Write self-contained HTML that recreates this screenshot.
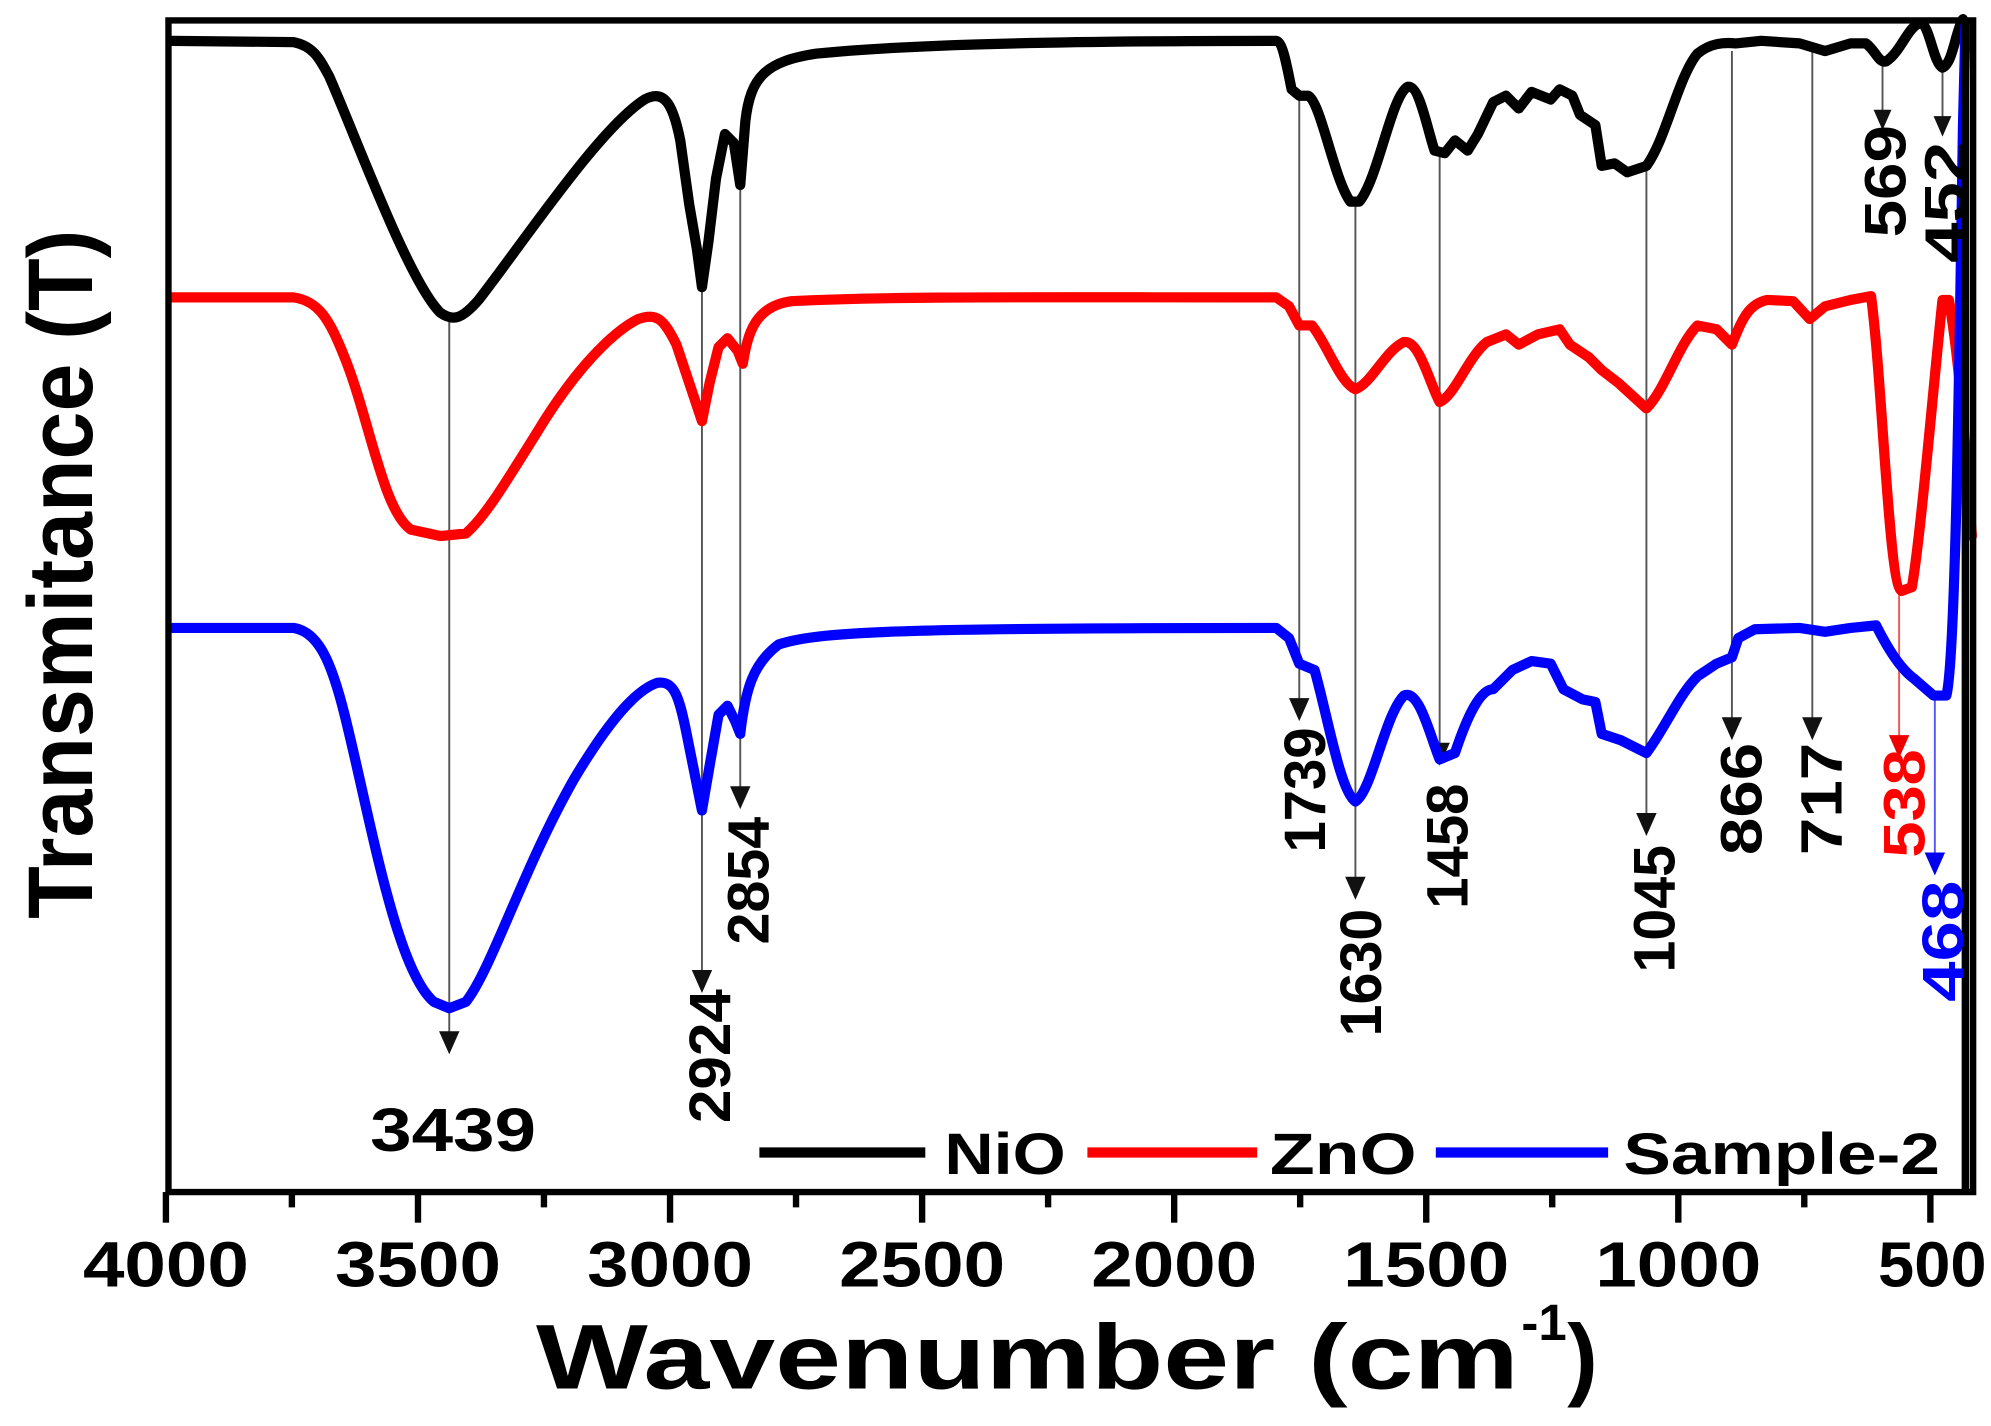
<!DOCTYPE html>
<html><head><meta charset="utf-8"><style>
html,body{margin:0;padding:0;background:#fff;}
svg{display:block;}
text{font-family:"Liberation Sans",Arial,sans-serif;font-weight:bold;}
</style></head><body>
<svg width="1991" height="1426" viewBox="0 0 1560 1117.3" preserveAspectRatio="none" xmlns="http://www.w3.org/2000/svg">
<rect x="0" y="0" width="1560" height="1117.3" fill="#fff"/>
<!-- guide lines -->
<g stroke="#555" stroke-width="1.5" fill="none">
<line x1="352" y1="248" x2="352" y2="812"/>
<line x1="550" y1="225" x2="550" y2="765"/>
<line x1="580" y1="145" x2="580" y2="622"/>
<line x1="1018" y1="75" x2="1018" y2="552"/>
<line x1="1062" y1="160" x2="1062" y2="692"/>
<line x1="1128" y1="120" x2="1128" y2="587"/>
<line x1="1290" y1="130" x2="1290" y2="642"/>
<line x1="1357" y1="40" x2="1357" y2="567"/>
<line x1="1420" y1="40" x2="1420" y2="567"/>
<line x1="1475" y1="50" x2="1475" y2="92"/>
<line x1="1522" y1="55" x2="1522" y2="97"/>
</g>
<g fill="#111">
<path d="M344,808 L360,808 L352,826 Z"/>
<path d="M542,760 L558,760 L550,778 Z"/>
<path d="M572,616 L588,616 L580,634 Z"/>
<path d="M1010,547 L1026,547 L1018,565 Z"/>
<path d="M1054,687 L1070,687 L1062,705 Z"/>
<path d="M1120,582 L1136,582 L1128,600 Z"/>
<path d="M1282,637 L1298,637 L1290,655 Z"/>
<path d="M1349,562 L1365,562 L1357,580 Z"/>
<path d="M1412,562 L1428,562 L1420,580 Z"/>
<path d="M1468,86 L1482,86 L1475,102 Z"/>
<path d="M1515,91 L1529,91 L1522,107 Z"/>
</g>
<line x1="1488" y1="465" x2="1488" y2="580" stroke="#e55" stroke-width="1.5"/>
<path d="M1480,576 L1496,576 L1488,594 Z" fill="#e00"/>
<line x1="1516" y1="545" x2="1516" y2="672" stroke="#55f" stroke-width="1.5"/>
<path d="M1508,668 L1524,668 L1516,686 Z" fill="#00e"/>

<!-- curves -->
<g fill="none" stroke-width="8" stroke-linejoin="round" stroke-linecap="round">
<path stroke="#000" d="M135,32 L230,33 C245,36 250,45 258,60 C280,110 320,220 345,245 C355,252 362,250 375,235 C410,190 470,100 505,78 C520,70 527,80 533,110 L540,160 L546,195 L550,225 L555,190 L561,140 L568,105 L575,112 L580,145 L584,95 C588,60 600,48 640,42 C700,36 800,32 1000,32 C1005,33 1008,50 1012,70 L1018,75 L1025,75 C1035,80 1045,140 1058,158 L1065,158 C1080,140 1090,75 1103,68 C1112,66 1118,100 1124,118 L1132,120 L1140,110 L1150,118 L1158,105 L1170,80 L1180,75 L1190,85 L1200,72 L1215,78 L1222,70 L1232,75 L1238,90 L1250,98 L1255,130 L1265,128 L1275,135 L1290,130 C1305,110 1315,60 1330,42 C1340,34 1350,33 1360,34 L1380,32 L1410,34 L1430,40 L1450,34 L1462,34 C1470,40 1472,50 1478,48 C1490,40 1495,20 1505,18 C1512,20 1515,50 1522,53 C1530,50 1532,25 1538,15"/>
<path stroke="#f00" d="M135,233 L230,233 C250,236 258,250 270,280 C290,330 300,400 322,415 L345,420 L365,418 C380,405 395,380 420,340 C450,290 480,260 500,250 C515,245 520,250 530,270 L540,300 L550,330 L556,300 L563,272 L570,265 L578,275 L582,285 C586,260 592,240 620,236 C700,232 800,233 1000,233 L1010,240 L1018,255 L1028,255 C1040,270 1050,300 1062,305 C1075,300 1085,275 1100,268 C1112,266 1120,300 1128,315 C1140,310 1150,280 1165,268 L1180,262 L1190,270 L1205,262 L1222,258 L1230,270 L1245,280 L1255,290 L1268,300 L1290,320 C1305,305 1315,270 1330,255 L1345,258 L1357,270 C1365,250 1370,238 1385,235 L1405,236 L1418,250 L1430,240 L1450,235 L1466,232 C1475,300 1480,460 1490,463 L1498,460 C1505,420 1515,300 1522,235 L1527,235 C1535,280 1540,350 1545,420"/>
<path stroke="#00f" d="M135,492 L230,492 C250,495 260,520 270,560 C290,640 310,760 340,785 L352,790 L365,785 C385,760 410,680 450,610 C480,560 500,540 515,535 C528,533 532,545 538,575 L545,610 L550,635 L556,600 L563,560 L570,553 L576,565 L580,575 C584,540 590,520 610,505 C640,495 700,492 1000,492 L1010,500 L1018,520 L1030,525 C1040,560 1050,620 1062,628 C1075,620 1085,560 1100,545 C1112,540 1120,575 1128,595 L1140,590 C1150,560 1160,540 1170,540 L1185,525 L1200,518 L1215,520 L1225,540 L1240,548 L1250,550 L1255,575 L1270,580 L1290,590 C1305,570 1315,545 1330,530 L1345,520 L1357,515 L1362,500 L1375,493 L1410,492 L1430,495 L1450,492 L1470,490 C1480,510 1490,525 1500,532 L1515,545 L1525,545 C1532,520 1535,300 1538,100 L1540,20"/>
</g>

<!-- frame -->
<rect x="132" y="16" width="1414" height="918" fill="none" stroke="#000" stroke-width="5"/>
<line x1="1540" y1="16" x2="1540" y2="934" stroke="#000" stroke-width="6"/>
<g stroke="#000" stroke-width="5">
<line x1="130" y1="934" x2="130" y2="958"/><line x1="327.5" y1="934" x2="327.5" y2="958"/><line x1="525" y1="934" x2="525" y2="958"/><line x1="722.5" y1="934" x2="722.5" y2="958"/><line x1="920" y1="934" x2="920" y2="958"/><line x1="1117.5" y1="934" x2="1117.5" y2="958"/><line x1="1315" y1="934" x2="1315" y2="958"/><line x1="1512.5" y1="934" x2="1512.5" y2="958"/>
<line x1="228.7" y1="934" x2="228.7" y2="946"/><line x1="426.2" y1="934" x2="426.2" y2="946"/><line x1="623.7" y1="934" x2="623.7" y2="946"/><line x1="821.2" y1="934" x2="821.2" y2="946"/><line x1="1018.7" y1="934" x2="1018.7" y2="946"/><line x1="1216.2" y1="934" x2="1216.2" y2="946"/><line x1="1413.7" y1="934" x2="1413.7" y2="946"/>
</g>
<g font-size="50" text-anchor="middle">
<text x="130" y="1008" textLength="130" lengthAdjust="spacingAndGlyphs">4000</text>
<text x="327.5" y="1008" textLength="130" lengthAdjust="spacingAndGlyphs">3500</text>
<text x="525" y="1008" textLength="130" lengthAdjust="spacingAndGlyphs">3000</text>
<text x="722.5" y="1008" textLength="130" lengthAdjust="spacingAndGlyphs">2500</text>
<text x="920" y="1008" textLength="130" lengthAdjust="spacingAndGlyphs">2000</text>
<text x="1117.5" y="1008" textLength="130" lengthAdjust="spacingAndGlyphs">1500</text>
<text x="1315" y="1008" textLength="130" lengthAdjust="spacingAndGlyphs">1000</text>
<text x="1514" y="1008" textLength="85" lengthAdjust="spacingAndGlyphs">500</text>
</g>
<text x="420" y="1088" font-size="72" textLength="770" lengthAdjust="spacingAndGlyphs">Wavenumber (cm</text>
<text x="1192" y="1050" font-size="40">-1</text>
<text x="1228" y="1088" font-size="72">)</text>
<text transform="translate(72,720) rotate(-90)" font-size="72" textLength="540" lengthAdjust="spacingAndGlyphs">Transmitance (T)</text>

<!-- peak labels -->
<text x="355" y="902" font-size="48" text-anchor="middle" textLength="130" lengthAdjust="spacingAndGlyphs">3439</text>
<g font-size="46">
<text transform="translate(572,880) rotate(-90)" textLength="105" lengthAdjust="spacingAndGlyphs">2924</text>
<text transform="translate(602,740) rotate(-90)" textLength="100" lengthAdjust="spacingAndGlyphs">2854</text>
<text transform="translate(1038,668) rotate(-90)" textLength="98" lengthAdjust="spacingAndGlyphs">1739</text>
<text transform="translate(1082,812) rotate(-90)" textLength="100" lengthAdjust="spacingAndGlyphs">1630</text>
<text transform="translate(1150,712) rotate(-90)" textLength="98" lengthAdjust="spacingAndGlyphs">1458</text>
<text transform="translate(1312,762) rotate(-90)" textLength="100" lengthAdjust="spacingAndGlyphs">1045</text>
<text transform="translate(1380,670) rotate(-90)" textLength="88" lengthAdjust="spacingAndGlyphs">866</text>
<text transform="translate(1443,670) rotate(-90)" textLength="88" lengthAdjust="spacingAndGlyphs">717</text>
<text transform="translate(1508,672) rotate(-90)" fill="#f00" textLength="85" lengthAdjust="spacingAndGlyphs">538</text>
<text transform="translate(1538,785) rotate(-90)" fill="#00f" textLength="95" lengthAdjust="spacingAndGlyphs">468</text>
<text transform="translate(1493,186) rotate(-90)" textLength="88" lengthAdjust="spacingAndGlyphs">569</text>
<text transform="translate(1540,206) rotate(-90)" textLength="95" lengthAdjust="spacingAndGlyphs">452</text>
</g>

<!-- legend -->
<g stroke-width="8">
<line x1="595" y1="903" x2="725" y2="903" stroke="#000"/>
<line x1="852" y1="903" x2="985" y2="903" stroke="#f00"/>
<line x1="1125" y1="903" x2="1260" y2="903" stroke="#00f"/>
</g>
<g font-size="46">
<text x="740" y="920" textLength="95" lengthAdjust="spacingAndGlyphs">NiO</text>
<text x="995" y="920" textLength="115" lengthAdjust="spacingAndGlyphs">ZnO</text>
<text x="1272" y="920" textLength="248" lengthAdjust="spacingAndGlyphs">Sample-2</text>
</g>
</svg>
</body></html>
